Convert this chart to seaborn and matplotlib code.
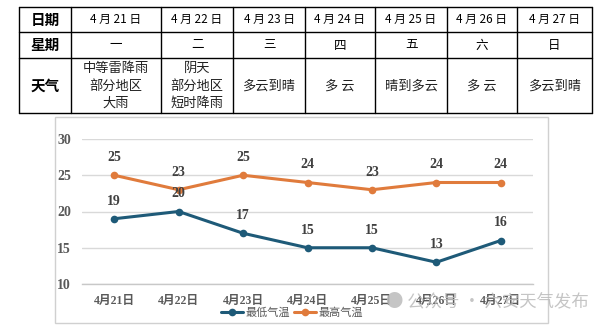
import matplotlib
matplotlib.use("Agg")
import matplotlib.pyplot as plt
import seaborn as sns
import pandas as pd
from matplotlib.patches import Rectangle

# ---------------- data ----------------
table_dates = ["4 月 21 日", "4 月 22 日", "4 月 23 日", "4 月 24 日", "4 月 25 日", "4 月 26 日", "4 月 27 日"]
weekdays = ["一", "二", "三", "四", "五", "六", "日"]
weather = ["中等雷降雨\n部分地区\n大雨", "阴天\n部分地区\n短时降雨", "多云到晴", "多 云", "晴到多云", "多 云", "多云到晴"]
row_headers = ["日期", "星期", "天气"]

chart_dates = ["4月21日", "4月22日", "4月23日", "4月24日", "4月25日", "4月26日", "4月27日"]
low_temp = [19, 20, 17, 15, 15, 13, 16]
high_temp = [25, 23, 25, 24, 23, 24, 24]
series_names = ["最低气温", "最高气温"]

sns.set_theme(style="white")
plt.rcParams['font.family'] = ['Noto Sans CJK SC', 'DejaVu Sans']

W, H = 605, 333
fig = plt.figure(figsize=(W / 100, H / 100), dpi=100)
fig.patch.set_facecolor("white")

# ---------------- table (pixel coordinates) ----------------
tab = fig.add_axes([0, 0, 1, 1])
tab.set_xlim(0, W)
tab.set_ylim(H, 0)
tab.axis("off")

col_x = [19, 71, 161, 233, 305, 375, 447, 517, 592]
row_y = [7, 32, 58, 113]
for y in row_y:
    tab.plot([col_x[0], col_x[-1]], [y, y], color="black", lw=1.0)
for x in col_x:
    tab.plot([x, x], [row_y[0], row_y[-1]], color="black", lw=1.0)

for r, name in enumerate(row_headers):
    yc = (row_y[r] + row_y[r + 1]) / 2
    tab.text((col_x[0] + col_x[1]) / 2, yc, name, ha="center", va="center",
             fontsize=10.5, fontweight="bold", color="black")

for i in range(7):
    xc = (col_x[i + 1] + col_x[i + 2]) / 2
    tab.text(xc, (row_y[0] + row_y[1]) / 2, table_dates[i], ha="center", va="center",
             fontsize=8.5, color="black")
    tab.text(xc, (row_y[1] + row_y[2]) / 2, weekdays[i], ha="center", va="center",
             fontsize=9, color="black")
    tab.text(xc, (row_y[2] + row_y[3]) / 2 + 0.5, weather[i], ha="center", va="center",
             fontsize=9.5, color="#222222", linespacing=1.45)

# chart frame
tab.add_patch(Rectangle((55, 117), 548 - 55, 323 - 117, fill=False,
                        edgecolor="#D0D0D0", lw=1.0))

# ---------------- line chart ----------------
left, right = 82 / W, 533 / W
bottom, top = (H - 284) / H, (H - 139) / H
ax = fig.add_axes([left, bottom, right - left, top - bottom])

df = pd.DataFrame({
    "date": chart_dates * 2,
    "temp": low_temp + high_temp,
    "series": [series_names[0]] * 7 + [series_names[1]] * 7,
})
colors = {series_names[0]: "#1E5A78", series_names[1]: "#E07B3C"}
sns.lineplot(data=df, x="date", y="temp", hue="series", palette=colors,
             marker="o", markersize=5.5, markeredgewidth=0, lw=2.2, ax=ax,
             sort=False)

ax.set_xlim(-0.5, 6.5)
ax.set_ylim(10, 30)
ax.yaxis.grid(True, color="#D9D9D9", lw=1.0)
ax.set_axisbelow(True)
for s in ["top", "right", "left"]:
    ax.spines[s].set_visible(False)
ax.spines["bottom"].set_color("#C8C8C8")
ax.spines["bottom"].set_linewidth(1.0)
ax.set_xlabel("")
ax.set_ylabel("")

serif = ['Liberation Serif', 'Noto Sans CJK SC']
ax.set_yticks([10, 15, 20, 25, 30])
ax.set_yticklabels(["10", "15", "20", "25", "30"], family=serif,
                   fontsize=10, fontweight="bold", color="#595959")
ax.tick_params(axis="y", length=0, pad=8)
ax.set_xticks(range(7))
ax.set_xticklabels(chart_dates, family=serif, fontsize=8.5,
                   fontweight="bold", color="#595959")
ax.tick_params(axis="x", which="major", length=0, pad=8)
ax.set_xticks([i - 0.5 for i in range(8)], minor=True)
ax.tick_params(axis="x", which="minor", length=3, color="#C8C8C8", width=1)

for i in range(7):
    ax.annotate(str(high_temp[i]), (i, high_temp[i]), xytext=(0, 8),
                textcoords="offset points", ha="center", va="bottom",
                family=serif, fontsize=10, fontweight="bold", color="#404040")
    ax.annotate(str(low_temp[i]), (i, low_temp[i]), xytext=(0, 8),
                textcoords="offset points", ha="center", va="bottom",
                family=serif, fontsize=10, fontweight="bold", color="#404040")

leg = ax.legend(loc="center", bbox_to_anchor=(292 / W, (H - 313) / H),
                bbox_transform=fig.transFigure, ncol=2, frameon=False,
                fontsize=8, handlelength=2.0, columnspacing=0.4,
                handletextpad=0.2, borderpad=0)
for t in leg.get_texts():
    t.set_color("#595959")

# watermark
fig.text(386 / W, (H - 301) / H, "\u25CF 公众号 · 六安天气发布", ha="left", va="center",
         fontsize=12.5, color="#BBBBBB", alpha=0.85)

fig.savefig("out.png", dpi=100)
